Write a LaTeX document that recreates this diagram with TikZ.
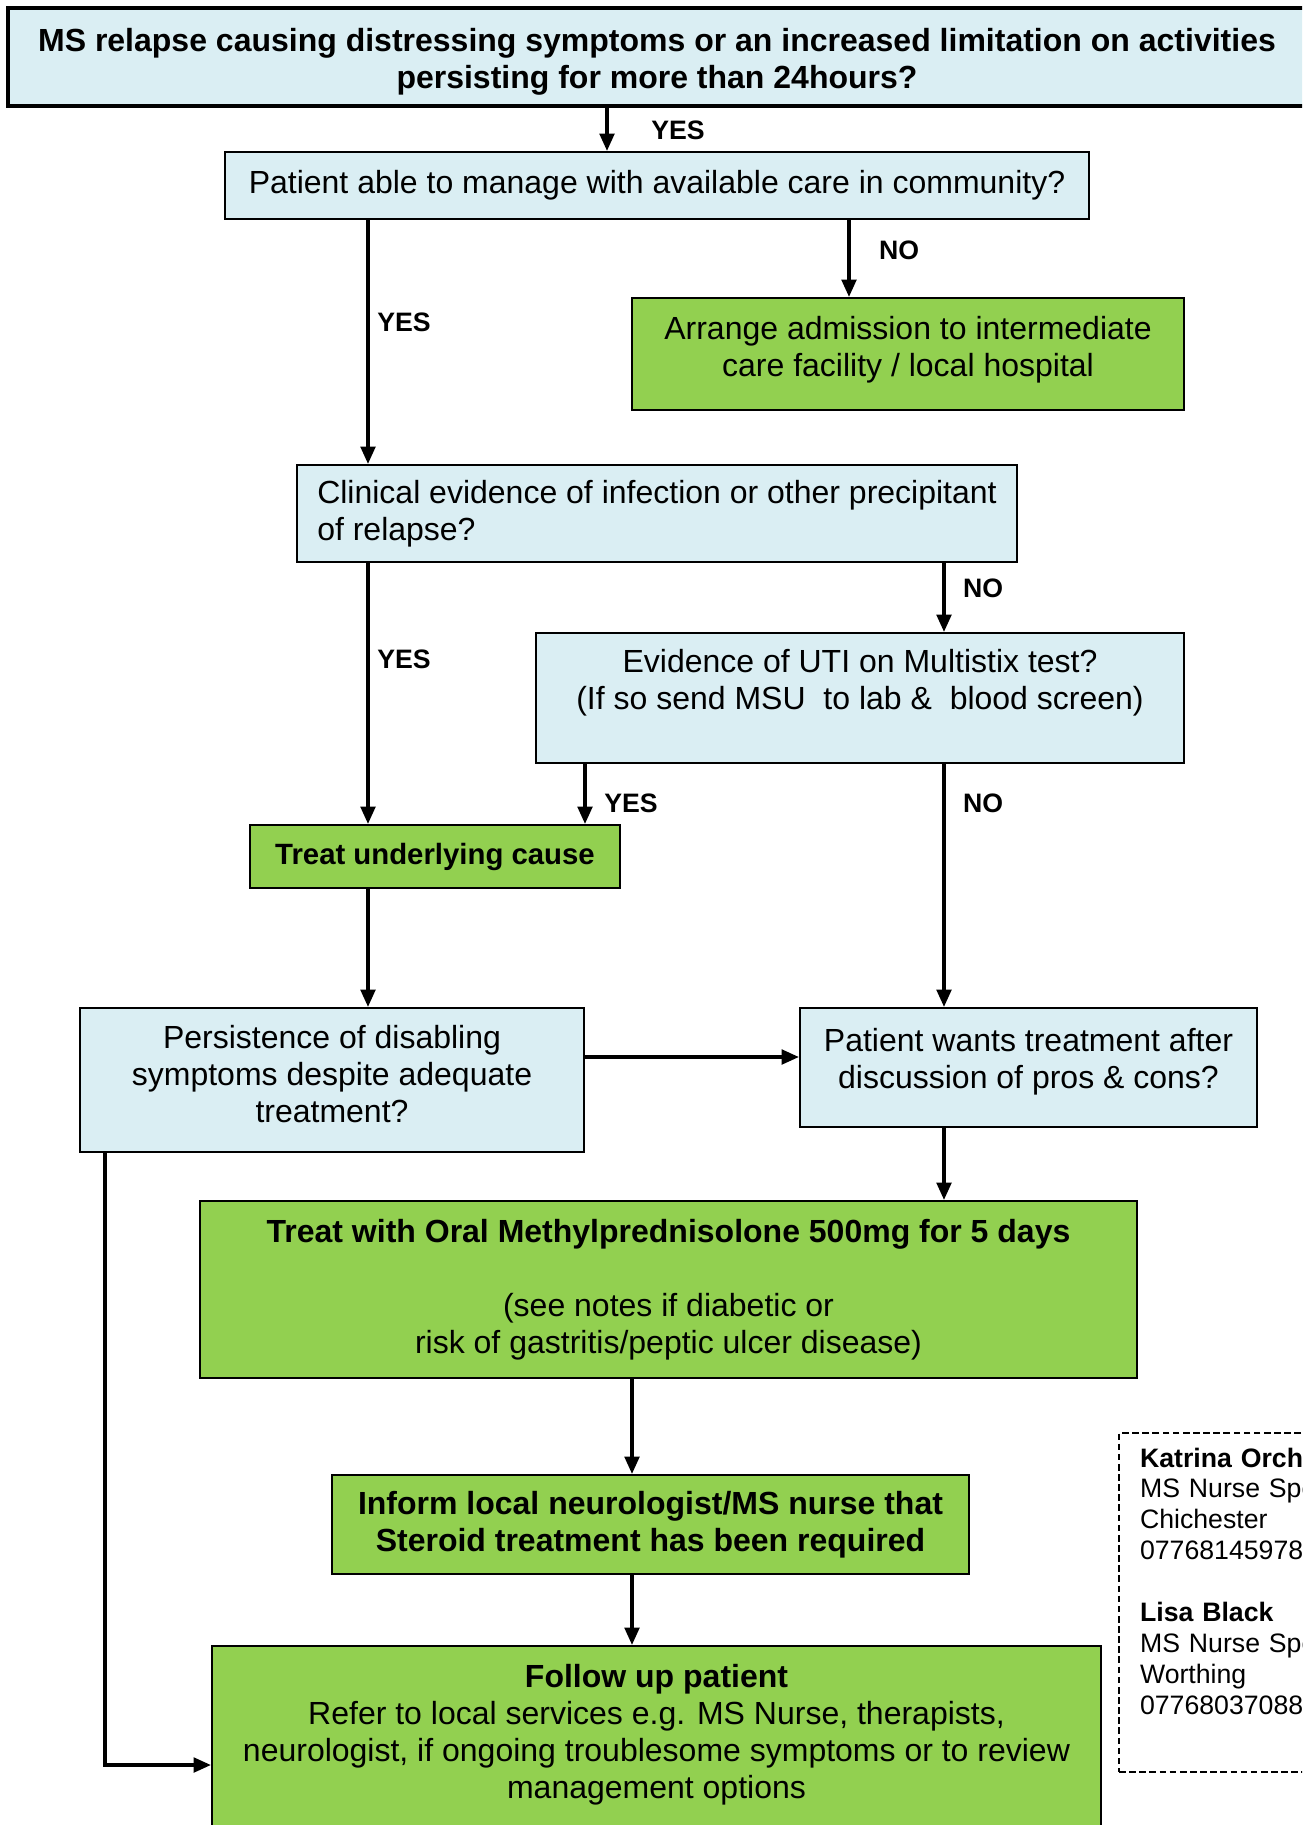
\documentclass[tikz,border=0pt]{standalone}
\usepackage{fontspec}
\setmainfont{Liberation Sans}
\usetikzlibrary{arrows.meta}

\newcommand{\px}{0.375pt}
\definecolor{askblue}{HTML}{DAEEF3}
\definecolor{actgreen}{HTML}{92D050}

\begin{document}
\begin{tikzpicture}[x=0.375pt,y=-0.375pt,
  ask/.style={draw,line width=0.8pt,fill=askblue,align=center,inner sep=0pt,
    font=\fontsize{12}{13.9}\selectfont},
  act/.style={ask,fill=actgreen},
  sz/.style 2 args={minimum width=#1*\px,minimum height=#2*\px},
  lbl/.style={font=\fontsize{10}{12}\selectfont\bfseries},
  arr/.style={line width=1.2pt,-{Triangle[width=5.5pt,length=6.5pt]}}]
  \useasboundingbox (0,0) rectangle (1302,1825);
  \clip (0,0) rectangle (1302,1825);

  % Questions and actions
  \node[ask,sz={1298}{98},line width=1.5pt,font=\fontsize{12}{13.9}\selectfont\bfseries] (q0) at (657,57)
    {\mbox{}\\[-1.6pt]MS relapse causing distressing symptoms or an increased limitation on activities\\persisting for more than 24hours?};
  \node[ask,sz={864}{67}] (q1) at (657,185.5) {Patient able to manage with available care in community?};
  \node[act,sz={552}{112}] (q2) at (908,354) {Arrange admission to intermediate\\care facility / local hospital\\[-7.9pt]\mbox{}};
  \node[ask,sz={720}{97},align=left] (q3) at (657,513.5)
    {Clinical evidence of infection or other precipitant\\of relapse?};
  \node[ask,sz={648}{130}] (q4) at (860,698)
    {Evidence of UTI on Multistix test?\\(If so send MSU\ \ to lab \&\ \ blood screen)\\\mbox{}};
  \node[act,sz={370}{63},font=\fontsize{11}{12.7}\selectfont\bfseries] (q5) at (435,856.5) {Treat underlying cause};
  \node[ask,sz={504}{144}] (q6) at (332,1080) {Persistence of disabling\\symptoms despite adequate\\treatment?\\[-9.5pt]\mbox{}};
  \node[ask,sz={457}{119}] (q7) at (1028.5,1067.5) {Patient wants treatment after\\discussion of pros \& cons?\\[-6.9pt]\mbox{}};
  \node[act,sz={937}{177}] (q8) at (668.5,1289.5)
    {\textbf{Treat with Oral Methylprednisolone 500mg for 5 days}\\[13.9pt](see notes if diabetic or\\risk of gastritis/peptic ulcer disease)};
  \node[act,sz={637}{99},font=\fontsize{12}{13.9}\selectfont\bfseries] (q9) at (650.5,1524.5)
    {Inform local neurologist/MS nurse that\\Steroid treatment has been required};
  \node[act,sz={889}{208}] (q10) at (656.5,1750)
    {\textbf{Follow up patient}\\Refer to local services e.g. MS Nurse, therapists,\\neurologist, if ongoing troublesome symptoms or to review\\management options\\\mbox{}};

  % Contacts
  \node[draw,dash pattern=on 2.5pt off 1.3pt,line width=0.8pt,anchor=north west,sz={192}{339},
    align=left,text width=300*\px,inner xsep=21*\px,inner ysep=0pt,font=\fontsize{10}{11.6}\selectfont] (contacts) at (1118,1432)
    {\textbf{Katrina Orchard}\\MS Nurse Specialist\\Chichester\\07768145978\\[11.6pt]\textbf{Lisa Black}\\MS Nurse Specialist\\Worthing\\07768037088\\[4.5pt]\mbox{}};

  % Columns for the connectors
  \coordinate (cA) at (368,0);
  \coordinate (cB) at (585,0);
  \coordinate (cC) at (607,0);
  \coordinate (cD) at (849,0);
  \coordinate (cE) at (944,0);
  \coordinate (cF) at (632,0);
  \coordinate (cG) at (105,0);
  \coordinate (rY) at (0,1057);
  \coordinate (rZ) at (0,1765);

  % Connectors
  \draw[arr] (q0.south -| cC) -- (q1.north -| cC);
  \draw[arr] (q1.south -| cA) -- (q3.north -| cA);
  \draw[arr] (q1.south -| cD) -- (q2.north -| cD);
  \draw[arr] (q3.south -| cA) -- (q5.north -| cA);
  \draw[arr] (q3.south -| cE) -- (q4.north -| cE);
  \draw[arr] (q4.south -| cB) -- (q5.north -| cB);
  \draw[arr] (q4.south -| cE) -- (q7.north -| cE);
  \draw[arr] (q5.south -| cA) -- (q6.north -| cA);
  \draw[arr] (q6.east |- rY) -- (q7.west |- rY);
  \draw[arr] (q7.south -| cE) -- (q8.north -| cE);
  \draw[arr] (q8.south -| cF) -- (q9.north -| cF);
  \draw[arr] (q9.south -| cF) -- (q10.north -| cF);
  \draw[arr] (q6.south -| cG) |- (q10.west |- rZ);

  % Answers
  \node[lbl] (yes0) at (678,130) {YES};
  \node[lbl] (yes1) at (404,322) {YES};
  \node[lbl] (no1) at (899,250) {NO};
  \node[lbl] (yes2) at (404,659) {YES};
  \node[lbl] (no2) at (983,588) {NO};
  \node[lbl] (yes3) at (631,803) {YES};
  \node[lbl] (no3) at (983,803) {NO};
\end{tikzpicture}
\end{document}
